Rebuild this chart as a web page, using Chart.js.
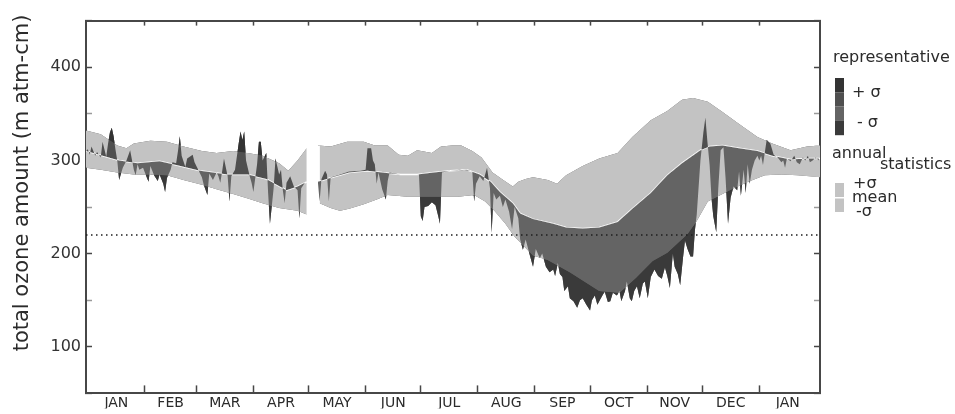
<!DOCTYPE html>
<html lang="en">
<head>
<meta charset="UTF-8" />
<title>Total ozone amount</title>
<script src="https://cdn.jsdelivr.net/npm/chart.js@4.4.1/dist/chart.umd.min.js"></script>
<style>
  body { margin: 0; padding: 0; background: #fff; }
  #wrap { width: 955px; height: 414px; }
</style>
</head>
<body>
<div id="wrap"><canvas id="ozone" width="955" height="414"></canvas></div>
<script>
// day of year (0 = 1 Jan), running a month into the following year
const monthNames = ['JAN','FEB','MAR','APR','MAY','JUN','JUL','AUG','SEP','OCT','NOV','DEC','JAN']
const monthStarts = [0,31,59,90,120,151,181,212,243,273,304,334,365,396]
const yTicks = [100,200,300,400]
const threshold = 220

// annual statistics: +sigma, mean, -sigma
const upDays = [-1,7,16,21,25,34,43,52,62,70,79,87,95,104,109,114,119,122,125,132,141,150,156,163,169,174,179,187,192,198,203,209,214,220,225,231,234,238,242,250,255,260,269,278,288,296,306,315,323,329,337,345,354,364,372,382,391,398]
const upVals = [332,328,316,313,318,321,320,315,310,308,310,308,305,297,289,300,313,null,316,315,320,320,316,316,306,305,311,308,315,316,316,310,303,287,280,272,277,280,282,279,275,284,294,302,308,325,343,353,365,367,363,352,339,325,318,311,315,316]

const meanDays = [-1,1,17,27,39,48,61,76,87,97,108,114,119,122,125,133,142,152,160,170,179,188,197,206,213,219,224,231,235,242,253,260,269,278,288,296,306,315,323,333,338,345,354,364,372,382,391,398]
const meanVals = [310,309,300,297,299,295,289,285,285,280,268,272,277,null,277,282,287,289,287,285,285,287,289,290,285,277,266,254,243,237,232,228,227,228,234,248,265,284,297,311,315,316,313,310,305,301,302,302]

const lowDays = [-1,7,16,25,34,43,52,62,70,79,87,95,104,114,119,122,126,132,137,142,150,157,163,174,192,201,210,216,221,227,232,238,242,250,262,278,289,298,307,315,326,331,337,350,359,368,377,386,398]
const lowVals = [292,290,287,285,285,284,279,274,269,264,259,254,249,246,242,null,254,249,246,248,253,258,263,261,261,261,263,256,246,232,218,206,198,193,180,160,158,174,192,201,221,235,256,269,277,284,285,284,282]

// representative year
const repDays = [-1,0,1,2,4,5,7,8,10,11,12,13,14,15,16,17,19,21,23,25,26,27,28,30,32,33,34,36,38,39,41,42,43,45,46,48,49,50,51,53,54,57,58,60,62,63,65,66,68,70,71,72,73,74,76,77,78,80,82,83,84,85,86,88,89,90,92,93,94,95,97,98,99,101,102,104,105,106,107,108,110,112,113,114,115,116,118,119,122,125,126,127,129,130,131,132,137,142,148,151,152,154,155,156,157,158,160,162,163,164,170,175,180,181,182,183,185,187,189,190.5,191.4,192.5,197,202,207,209,210,211,213,215,217,218.6,219.5,220.6,222,224,225.6,227,229,230.6,232,234,235,236.5,238,240,242,243.5,245.7,247,249,251,253,254,255.5,256.6,258,259,261,262,264,266,267.5,269,271,273,274,275.6,277,278,280,281,282.7,284,285.4,287.6,289,290,292,293,294.6,295.7,297,298.5,300,301.7,302.8,304.4,306,308,310,312,313.7,315,316.4,318,319,320.7,322,323.5,324.6,326,327.6,329,330,331,333,334.6,335.7,336.8,338,339,340,341.6,342.7,344,345.5,346.7,348,349.4,351,353,354,355,356.5,357.6,358.7,359.8,361,362.5,364,365,366,367,369,370,371,372.8,375,377,378,379,380,382,384,385.4,387,388.7,390,391.4,392.5,394,395.7,397.4]
const repVals = [310,312,306,315,305,309,303,320,304,318,330,335,326,312,300,279,292,300,311,290,284,296,290,292,282,277,294,284,278,285,275,266,281,290,298,297,310,326,305,293,302,306,298,290,282,274,263,286,279,287,283,276,288,302,283,256,283,290,318,331,322,331,300,283,276,266,296,320,320,300,308,265,232,270,302,285,290,268,254,276,283,272,270,268,238,270,276,277,null,278,256,280,289,285,256,282,285,288,289,290,313,313,300,296,275,287,269,258,278,287,285,285,285,240,235,250,251,255,252,240,232,287,289,290,289,288,256,275,283,278,292,270,222,265,258,262,250,258,245,226,250,238,215,204,215,200,186,205,195,200,186,180,183,176,190,178,175,160,165,152,149,142,150,152,145,139,150,155,145,149,156,159,148,149,158,155,160,149,160,170,152,149,160,165,152,168,170,152,175,183,176,173,185,176,163,200,186,178,166,195,214,205,197,197,225,242,300,330,346,320,295,260,240,223,270,311,314,280,232,260,272,268,288,262,290,265,296,275,290,300,305,300,305,295,322,320,318,306,303,298,300,292,302,299,305,298,296,303,300,305,298,300,303,300]

const bandColor = '#c3c3c3'
const overUp = '#333333'
const meanToUp = '#4f4f4f'
const meanToLow = '#646464'
const underLow = '#3a3a3a'
const textColor = '#2b2b2b'
const axisColor = '#474747'
const clear = 'rgba(0,0,0,0)'

const pts = (xs, ys) => xs.map((x, i) => ({ x: x, y: ys[i] }))

const boundaries = monthStarts.slice(1, 13)
const mids = monthNames.map((m, i) => (monthStarts[i] + monthStarts[i + 1]) / 2)

Chart.defaults.font.family = '"DejaVu Sans", sans-serif'
Chart.defaults.color = textColor

const sideText = {
  id: 'sideText',
  afterDraw(chart) {
    const ctx = chart.ctx
    ctx.save()
    ctx.fillStyle = textColor
    // y axis title
    ctx.save()
    ctx.translate(23, 183)
    ctx.rotate(-Math.PI / 2)
    ctx.font = '21px "DejaVu Sans"'
    ctx.textAlign = 'center'
    ctx.textBaseline = 'middle'
    ctx.fillText('total ozone amount (m atm-cm)', 0, 0)
    ctx.restore()

    ctx.font = '16px "DejaVu Sans"'
    ctx.textAlign = 'left'
    ctx.textBaseline = 'alphabetic'
    ctx.fillText('representative', 833, 62)
    const repBoxes = [overUp, meanToUp, meanToLow, underLow]
    repBoxes.forEach((c, i) => {
      ctx.fillStyle = c
      ctx.fillRect(835, 78 + i * 14.3, 9, 14.3)
    })
    ctx.fillStyle = textColor
    ctx.fillText('+ σ', 852, 97)
    ctx.fillText('- σ', 857, 127)
    ctx.fillText('annual', 832, 158)
    ctx.fillText('statistics', 880, 169)
    ctx.fillStyle = bandColor
    ctx.fillRect(835, 183, 9, 29)
    ctx.fillStyle = '#fff'
    ctx.fillRect(835, 197, 9, 1.5)
    ctx.fillStyle = textColor
    ctx.fillText('+σ', 853, 188)
    ctx.fillText('mean', 852, 202)
    ctx.fillText('-σ', 856, 216)
    ctx.restore()
  }
}

const hidden = { borderColor: clear, borderWidth: 0, pointRadius: 0 }

new Chart(document.getElementById('ozone'), {
  type: 'line',
  data: {
    datasets: [
      Object.assign({ label: '+σ', data: pts(upDays, upVals), fill: false, order: 7 }, hidden),
      Object.assign({ label: '-σ', data: pts(lowDays, lowVals), backgroundColor: bandColor,
        fill: { target: 0, above: bandColor, below: bandColor }, order: 6 }, hidden),
      { label: 'mean', data: pts(meanDays, meanVals), borderColor: '#ffffff', borderWidth: 1.5,
        pointRadius: 0, fill: false, order: 5 },
      Object.assign({ label: 'representative', data: pts(repDays, repVals),
        fill: { target: 2, above: meanToUp, below: meanToLow }, order: 4 }, hidden),
      Object.assign({ label: 'representative > +σ', data: pts(repDays, repVals),
        fill: { target: 0, above: overUp, below: clear }, order: 3 }, hidden),
      Object.assign({ label: 'representative < -σ', data: pts(repDays, repVals),
        fill: { target: 1, above: clear, below: underLow }, order: 2 }, hidden),
      { label: '220', data: [{ x: -1, y: threshold }, { x: 398, y: threshold }],
        borderColor: '#1e1e1e', borderWidth: 1.5, borderDash: [1.5, 3.5], pointRadius: 0,
        fill: false, order: 1 }
    ]
  },
  options: {
    responsive: false,
    animation: false,
    events: [],
    layout: { padding: 0 },
    elements: { line: { tension: 0 } },
    plugins: {
      legend: { display: false },
      tooltip: { enabled: false }
    },
    scales: {
      x: {
        type: 'linear',
        position: 'bottom',
        min: -1,
        max: 398,
        afterBuildTicks: (s) => {
          s.ticks = boundaries.concat(mids).sort((a, b) => a - b).map((v) => ({ value: v }))
        },
        afterFit: (s) => { s.height = 15 },
        ticks: {
          autoSkip: false,
          maxRotation: 0,
          padding: 10,
          font: { size: 14 },
          callback: (v) => {
            const i = mids.indexOf(v)
            return i >= 0 ? monthNames[i] : ''
          }
        },
        grid: {
          drawOnChartArea: false,
          tickLength: -8,
          tickWidth: 1.5,
          color: axisColor,
          tickColor: (c) => (c.tick && boundaries.includes(c.tick.value) ? axisColor : clear)
        },
        border: { color: axisColor, width: 2 }
      },
      xTop: {
        type: 'linear',
        position: 'top',
        min: -1,
        max: 398,
        afterBuildTicks: (s) => { s.ticks = boundaries.map((v) => ({ value: v })) },
        afterFit: (s) => { s.height = 12 },
        ticks: { display: false },
        grid: { drawOnChartArea: false, tickLength: -5, tickWidth: 1.5, color: axisColor },
        border: { color: axisColor, width: 2 }
      },
      y: {
        position: 'left',
        min: 50,
        max: 450,
        afterFit: (s) => { s.width = 86 },
        ticks: {
          stepSize: 50,
          padding: 11,
          font: { size: 16 },
          color: '#333',
          callback: (v) => (yTicks.includes(v) ? String(v) : '')
        },
        grid: {
          drawOnChartArea: false,
          tickLength: -6,
          tickWidth: 1.5,
          color: axisColor,
          tickColor: (c) => (c.tick && yTicks.includes(c.tick.value) ? axisColor : '#9a9a9a')
        },
        border: { color: axisColor, width: 2 }
      },
      yRight: {
        position: 'right',
        min: 50,
        max: 450,
        afterFit: (s) => { s.width = 135 },
        ticks: { stepSize: 50, display: false },
        grid: {
          drawOnChartArea: false,
          tickLength: -6,
          tickWidth: 1.5,
          color: axisColor,
          tickColor: (c) => (c.tick && yTicks.includes(c.tick.value) ? axisColor : '#9a9a9a')
        },
        border: { color: axisColor, width: 2 }
      }
    }
  },
  plugins: [sideText]
})
</script>
</body>
</html>
